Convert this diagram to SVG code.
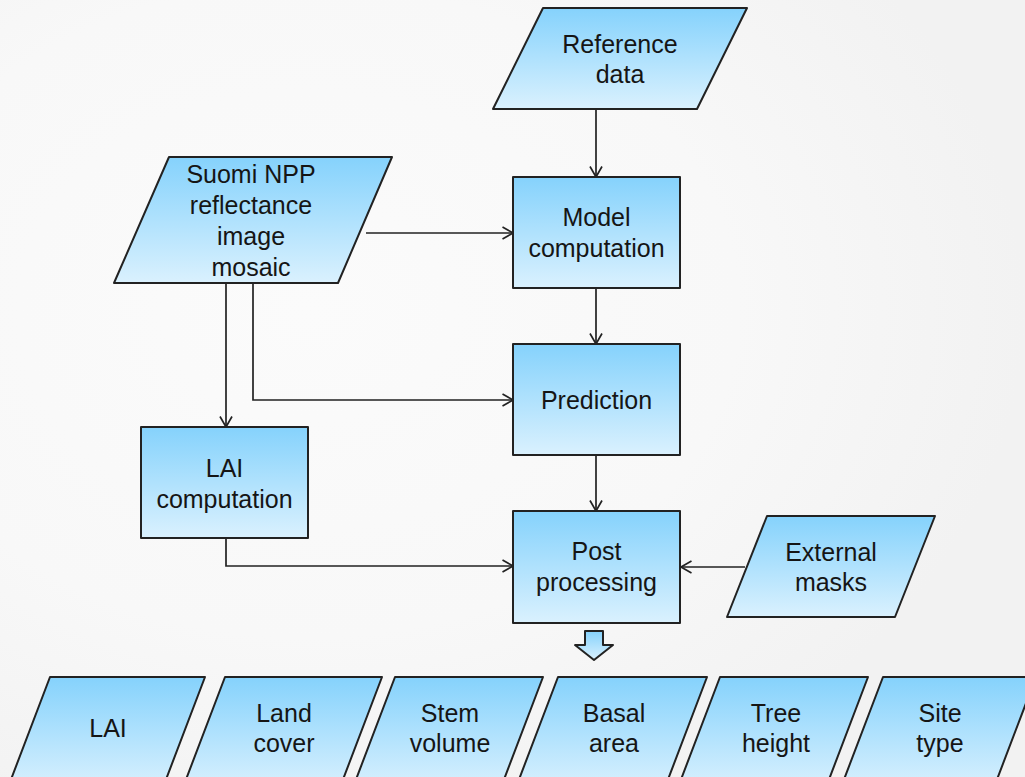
<svg xmlns="http://www.w3.org/2000/svg" width="1025" height="777" viewBox="0 0 1025 777">
<defs>
<linearGradient id="blue" x1="0" y1="0" x2="0" y2="1">
<stop offset="0" stop-color="#85d2fc"/>
<stop offset="1" stop-color="#daf1fe"/>
</linearGradient>
<radialGradient id="bg" cx="0.3" cy="0.4" r="0.7">
<stop offset="0" stop-color="#fbfbfb"/>
<stop offset="0.6" stop-color="#f8f8f8"/>
<stop offset="1" stop-color="#f2f2f2"/>
</radialGradient>
<marker id="arr" viewBox="0 0 12 14" refX="11.5" refY="7" markerWidth="12" markerHeight="14" markerUnits="userSpaceOnUse" orient="auto">
<path d="M1,1 L11.5,7 L1,13" fill="none" stroke="#222" stroke-width="1.7"/>
</marker>
<style>
.shape{fill:url(#blue);stroke:#222;stroke-width:2;stroke-linejoin:round}
.conn{fill:none;stroke:#222;stroke-width:1.7;marker-end:url(#arr)}
text{font-family:"Liberation Sans",Arial,sans-serif;font-size:25px;fill:#151515;text-anchor:middle}
</style>
</defs>
<rect x="0" y="0" width="1025" height="777" fill="url(#bg)"/>

<g id="connectors">
<path class="conn" d="M596,110 L596,177"/>
<path class="conn" d="M366,233 L513,233"/>
<path class="conn" d="M596,289 L596,344"/>
<path class="conn" d="M226,284 L226,427"/>
<path class="conn" d="M253,284 L253,400 L513,400"/>
<path class="conn" d="M596,456 L596,511"/>
<path class="conn" d="M226,539 L226,566 L513,566"/>
<path class="conn" d="M745,567 L681,567"/>
</g>

<g id="reference-data">
<polygon class="shape" points="543,8 747,8 697,109 493,109"/>
<text x="620" y="53">Reference</text>
<text x="620" y="83">data</text>
</g>

<g id="suomi-npp">
<polygon class="shape" points="169,157 392,157 338,283 114,283"/>
<text x="251" y="183">Suomi NPP</text>
<text x="251" y="214">reflectance</text>
<text x="251" y="245">image</text>
<text x="251" y="276">mosaic</text>
</g>

<g id="model-computation">
<rect class="shape" x="513" y="177" width="167" height="111"/>
<text x="596.5" y="226">Model</text>
<text x="596.5" y="257">computation</text>
</g>

<g id="prediction">
<rect class="shape" x="513" y="344" width="167" height="111"/>
<text x="596.5" y="409">Prediction</text>
</g>

<g id="lai-computation">
<rect class="shape" x="141" y="427" width="167" height="111"/>
<text x="224.5" y="477">LAI</text>
<text x="224.5" y="508">computation</text>
</g>

<g id="post-processing">
<rect class="shape" x="513" y="511" width="167" height="112"/>
<text x="596.5" y="560">Post</text>
<text x="596.5" y="591">processing</text>
</g>

<g id="external-masks">
<polygon class="shape" points="767,516 935,516 895,617 727,617"/>
<text x="831" y="561">External</text>
<text x="831" y="591">masks</text>
</g>

<g id="output-arrow">
<polygon class="shape" points="585,631 603,631 603,645 613,645 594,660 575,645 585,645" stroke-width="1.7"/>
</g>

<g id="out-lai">
<polygon class="shape" points="50,677 205,677 162,790 7,790"/>
<text x="108" y="737">LAI</text>
</g>
<g id="out-land-cover">
<polygon class="shape" points="225,677 382,677 339,790 182,790"/>
<text x="284" y="722">Land</text>
<text x="284" y="752">cover</text>
</g>
<g id="out-stem-volume">
<polygon class="shape" points="395,677 543,677 500,790 352,790"/>
<text x="450" y="722">Stem</text>
<text x="450" y="752">volume</text>
</g>
<g id="out-basal-area">
<polygon class="shape" points="558,677 707,677 664,790 515,790"/>
<text x="614" y="722">Basal</text>
<text x="614" y="752">area</text>
</g>
<g id="out-tree-height">
<polygon class="shape" points="720,677 868,677 825,790 677,790"/>
<text x="776" y="722">Tree</text>
<text x="776" y="752">height</text>
</g>
<g id="out-site-type">
<polygon class="shape" points="883,677 1036,677 993,790 840,790"/>
<text x="940" y="722">Site</text>
<text x="940" y="752">type</text>
</g>
</svg>
